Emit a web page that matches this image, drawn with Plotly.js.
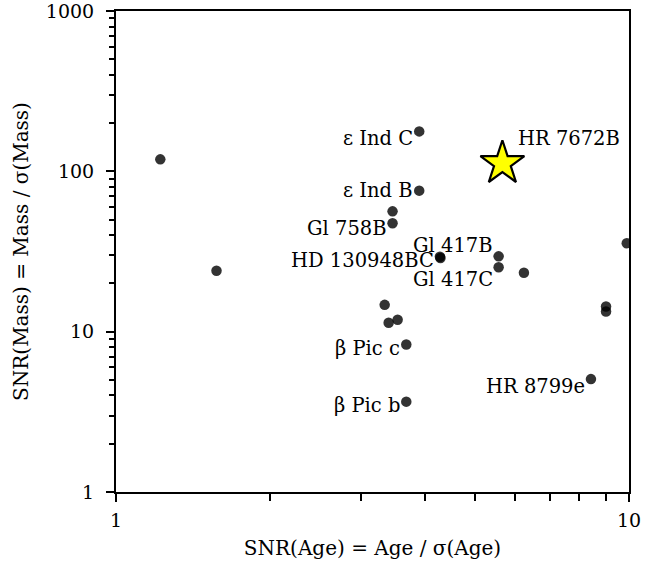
<!DOCTYPE html>
<html>
<head>
<meta charset="utf-8">
<script src="https://cdn.plot.ly/plotly-3.0.1.min.js"></script>
<style>html,body{margin:0;padding:0;background:#fff;}#chart{width:665px;height:570px;}</style>
</head>
<body>
<div id="chart"></div>
<script>
// SNR(Age) values for the comparison objects
const snrAge = [1.22, 1.57, 3.90, 3.90, 3.46, 3.46, 4.28, 4.29, 5.57, 5.57, 6.24, 9.90, 9.02, 9.02, 8.43, 3.34, 3.40, 3.54, 3.68, 3.68];
// SNR(Mass) values for the comparison objects
const snrMass = [118.8, 24.0, 177.5, 75.8, 56.3, 47.4, 29.3, 28.8, 29.5, 25.2, 23.3, 35.6, 14.35, 13.36, 5.06, 14.7, 11.36, 11.86, 8.32, 3.66];
// labels ('' = unlabeled)
const objNames = ['', '', 'ε Ind C', 'ε Ind B', '', 'Gl 758B', 'HD 130948BC', '', 'Gl 417B', 'Gl 417C', '', '', '', '', 'HR 8799e', '', '', '', 'β Pic c', 'β Pic b'];
// label offsets in pixels [dx, dy] (right edge of text relative to the point)
const labelShift = {
  'ε Ind C': [-4, -7], 'ε Ind B': [-4, 0], 'Gl 758B': [-4, -5], 'HD 130948BC': [-4, -4],
  'Gl 417B': [-4, 11], 'Gl 417C': [-4, -12], 'HR 8799e': [-4, -7], 'β Pic c': [-4, -4], 'β Pic b': [-4, -4]
};
// highlighted object
const starName = ['HR 7672B'];
const starAge = [5.665];
const starMass = [112.2];

const FONT = 'DejaVu Serif';
const LABEL_SIZE = 19.5;
const TICK_SIZE = 19;
const TITLE_SIZE = 20;

const traces = [
  {
    x: snrAge, y: snrMass, type: 'scatter', mode: 'markers',
    marker: {size: 10.5, color: 'rgba(0,0,0,0.8)', line: {width: 0}},
    hoverinfo: 'skip', showlegend: false
  },
  {
    x: starAge, y: starMass, type: 'scatter', mode: 'markers',
    marker: {symbol: 'star', size: 33, color: '#ffff00', line: {color: '#000', width: 2.2}},
    hoverinfo: 'skip', showlegend: false
  }
];

const annotations = [];
objNames.forEach((n, i) => {
  if (!n) return;
  const s = labelShift[n] || [-4, -4];
  annotations.push({
    x: Math.log10(snrAge[i]), y: Math.log10(snrMass[i]), xref: 'x', yref: 'y',
    text: n, showarrow: false, xanchor: 'right', yanchor: 'middle',
    xshift: s[0], yshift: s[1], font: {family: FONT, size: LABEL_SIZE, color: '#000'}
  });
});
starName.forEach((n, i) => {
  annotations.push({
    x: Math.log10(starAge[i]), y: Math.log10(starMass[i]), xref: 'x', yref: 'y',
    text: n, showarrow: false, xanchor: 'left', yanchor: 'middle',
    xshift: 14, yshift: 25, font: {family: FONT, size: LABEL_SIZE, color: '#000'}
  });
});

function minorVals(lo, hi) {
  const v = [];
  for (let d = lo; d < hi; d *= 10) for (let k = 2; k <= 9; k++) v.push(d * k);
  return v;
}

const layout = {
  width: 665, height: 570,
  margin: {l: 116, r: 36, t: 11, b: 78, pad: 0},
  paper_bgcolor: '#fff', plot_bgcolor: '#fff',
  font: {family: FONT, size: TICK_SIZE, color: '#000'},
  showlegend: false,
  xaxis: {
    type: 'log', range: [0, 1], showgrid: false, zeroline: false,
    showline: true, linecolor: '#000', linewidth: 2, mirror: true,
    ticks: 'outside', ticklen: 8, tickwidth: 2, tickcolor: '#000',
    tickmode: 'array', tickvals: [1, 10], ticktext: ['1', '10'],
    tickfont: {family: FONT, size: TICK_SIZE, color: '#000'}, ticklabelstandoff: 2,
    ticklabeloverflow: 'allow',
    minor: {tickmode: 'array', tickvals: minorVals(1, 10), ticks: 'outside', ticklen: 7, tickwidth: 2, tickcolor: '#000', showgrid: false},
    title: {text: 'SNR(Age) = Age / σ(Age)', font: {family: FONT, size: TITLE_SIZE, color: '#000'}, standoff: 11}
  },
  yaxis: {
    type: 'log', range: [0, 3], showgrid: false, zeroline: false,
    showline: true, linecolor: '#000', linewidth: 2, mirror: true,
    ticks: 'outside', ticklen: 8, tickwidth: 2, tickcolor: '#000',
    tickmode: 'array', tickvals: [1, 10, 100, 1000], ticktext: ['1', '10', '100', '1000'],
    tickfont: {family: FONT, size: TICK_SIZE, color: '#000'}, ticklabelstandoff: 8,
    ticklabeloverflow: 'allow',
    minor: {tickmode: 'array', tickvals: minorVals(1, 1000), ticks: 'outside', ticklen: 5, tickwidth: 2, tickcolor: '#000', showgrid: false},
    title: {text: 'SNR(Mass) = Mass / σ(Mass)', font: {family: FONT, size: TITLE_SIZE, color: '#000'}, standoff: 12}
  },
  annotations: annotations
};

Plotly.newPlot('chart', traces, layout, {displayModeBar: false, staticPlot: true});
</script>
</body>
</html>
